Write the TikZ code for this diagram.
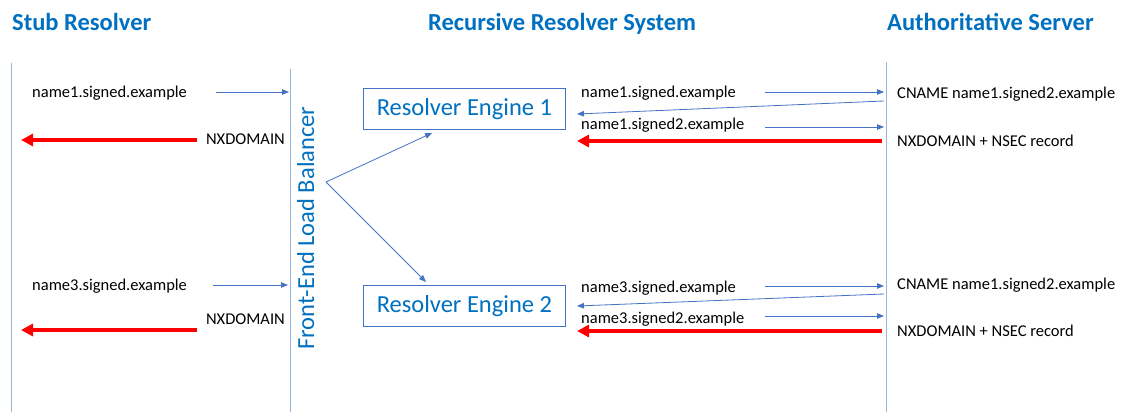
\documentclass[tikz,border=0pt]{standalone}
\usepackage{fontspec}
\setmainfont{Carlito}
\usetikzlibrary{arrows.meta}
\definecolor{tblue}{HTML}{0070C0}
\definecolor{ablue}{HTML}{4472C4}
\definecolor{lblue}{HTML}{9DB3DB}
\definecolor{nred}{HTML}{FF0000}
\begin{document}
\begin{tikzpicture}[x=1pt,y=-1pt,
  title/.style={font=\fontsize{24.5}{28}\selectfont\bfseries, text=tblue, inner sep=0, anchor=base west},
  lbl/.style={font=\fontsize{16.5}{19}\selectfont, inner sep=0, anchor=base west},
  lblr/.style={font=\fontsize{16.5}{19}\selectfont, inner sep=0, anchor=base east},
  thinarrow/.style={draw=ablue, line width=0.8pt, -{Triangle[length=7pt,width=5.5pt]}},
  redarrow/.style={draw=nred, line width=4pt, -{Triangle[length=12pt,width=12pt]}},
  life/.style={draw=lblue, line width=1pt},
  engine/.style={draw=ablue, line width=0.8pt, minimum width=202pt, minimum height=41pt,
    font=\fontsize{24.5}{28}\selectfont, text=tblue, inner sep=0, anchor=north west}]
\useasboundingbox (0,0) rectangle (1124,412);
\fill[white] (0,0) rectangle (1124,412);

% titles
\node[title] (t1) at (12,31) {Stub Resolver};
\node[title] (t2) at (428,31) {Recursive Resolver System};
\node[title] (t3) at (887,31) {Authoritative Server};

% lifelines
\coordinate (s1) at (11,63);   \coordinate (s2) at (11,412);
\coordinate (f1) at (290,69);  \coordinate (f2) at (290,412);
\coordinate (a1) at (886,62);  \coordinate (a2) at (886,412);
\draw[life] (s1) -- (s2);
\draw[life] (f1) -- (f2);
\draw[life] (a1) -- (a2);

\node[font=\fontsize{24.5}{28}\selectfont, text=tblue, inner sep=0, rotate=90, anchor=base] (lb) at (314,228) {Front-End Load Balancer};

% engines
\node[engine] (e1) at (363,88) {Resolver Engine 1};
\node[engine] (e2) at (363,285) {Resolver Engine 2};

% fan
\coordinate (fan) at (326,182);
\coordinate (fe1) at (432,133);
\coordinate (fe2) at (426,282);
\draw[thinarrow] (fan) -- (fe1);
\draw[thinarrow] (fan) -- (fe2);

% left part, top
\node[lbl] (l1) at (32,97) {name1.signed.example};
\coordinate (la1) at (216,92); \coordinate (lb1) at (289,92);
\draw[thinarrow] (la1) -- (lb1);
\node[lblr] (n1) at (285,144) {NXDOMAIN};
\coordinate (ra1) at (197,140); \coordinate (rb1) at (21,140);
\draw[redarrow] (ra1) -- (rb1);

% left part, bottom
\node[lbl] (l3) at (32,290) {name3.signed.example};
\coordinate (la3) at (213,285); \coordinate (lb3) at (288,285);
\draw[thinarrow] (la3) -- (lb3);
\node[lblr] (n3) at (285,324) {NXDOMAIN};
\coordinate (ra3) at (197,330); \coordinate (rb3) at (21,330);
\draw[redarrow] (ra3) -- (rb3);

% right part, top
\node[lbl] (q1) at (581,97) {name1.signed.example};
\coordinate (q1a) at (765,92); \coordinate (q1b) at (884,92);
\draw[thinarrow] (q1a) -- (q1b);
\node[lbl] (c1) at (897,98) {CNAME name1.signed2.example};
\coordinate (c1a) at (884,101); \coordinate (c1b) at (577,114);
\draw[thinarrow] (c1a) -- (c1b);
\node[lbl] (q2) at (581,129) {name1.signed2.example};
\coordinate (q2a) at (765,127); \coordinate (q2b) at (884,127);
\draw[thinarrow] (q2a) -- (q2b);
\coordinate (x1a) at (882,141); \coordinate (x1b) at (577,141);
\draw[redarrow] (x1a) -- (x1b);
\node[lbl] (x1) at (897,146) {NXDOMAIN + NSEC record};

% right part, bottom
\node[lbl] (q3) at (581,292) {name3.signed.example};
\coordinate (q3a) at (765,286); \coordinate (q3b) at (884,286);
\draw[thinarrow] (q3a) -- (q3b);
\node[lbl] (c3) at (897,289) {CNAME name1.signed2.example};
\coordinate (c3a) at (884,294); \coordinate (c3b) at (577,306);
\draw[thinarrow] (c3a) -- (c3b);
\node[lbl] (q4) at (581,323) {name3.signed2.example};
\coordinate (q4a) at (765,316); \coordinate (q4b) at (884,316);
\draw[thinarrow] (q4a) -- (q4b);
\coordinate (x3a) at (882,331); \coordinate (x3b) at (577,331);
\draw[redarrow] (x3a) -- (x3b);
\node[lbl] (x3) at (897,336) {NXDOMAIN + NSEC record};
\end{tikzpicture}
\end{document}
